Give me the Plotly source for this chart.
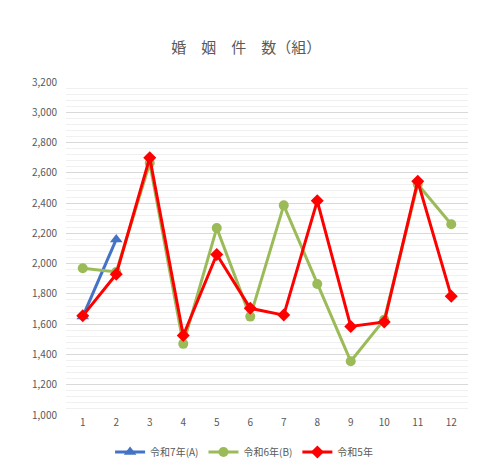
import plotly.graph_objects as go

# ---------------------------------------------------------------------------
# Data
# ---------------------------------------------------------------------------
months = [1, 2, 3, 4, 5, 6, 7, 8, 9, 10, 11, 12]

r7_name = "令和7年(A)"
r7_vals = [1650, 2160]

r6_name = "令和6年(B)"
r6_vals = [1970, 1945, 2665, 1470, 2235, 1650, 2385, 1865, 1355, 1630, 2525, 2260]

r5_name = "令和5年"
r5_vals = [1655, 1930, 2700, 1525, 2060, 1705, 1660, 2415, 1585, 1615, 2545, 1785]

y_ticks = list(range(1000, 3201, 200))

_FONT = "Noto Sans CJK JP, Noto Sans, sans-serif"
_TXT = "#595959"

fig = go.Figure()

series = [
    (r7_name, months[:len(r7_vals)], r7_vals, "#4472C4", "triangle-up", 11),
    (r6_name, months, r6_vals, "#9BBB59", "circle", 10),
    (r5_name, months, r5_vals, "#FF0000", "diamond", 10),
]
for name, xs, ys, color, symbol, msize in series:
    fig.add_trace(
        go.Scatter(
            x=xs, y=ys, name=name,
            mode="lines+markers",
            line=dict(color=color, width=3),
            marker=dict(symbol=symbol, size=msize, color=color),
        )
    )

# page body adds an 8px offset, so the figure is sized to fit inside the window
fig.update_layout(
    width=472, height=463,
    paper_bgcolor="white", plot_bgcolor="white",
    margin=dict(l=58, r=12, t=74, b=56, autoexpand=False),
    font=dict(family=_FONT, color=_TXT, size=10),
    title=dict(
        text="婚　姻　件　数（組）",
        x=0.505, xanchor="center", yref="container", y=0.914, yanchor="middle",
        font=dict(size=15, color=_TXT, family=_FONT),
    ),
    showlegend=True,
    legend=dict(
        orientation="h",
        x=0.443, xanchor="center", yref="container", y=0.041, yanchor="middle",
        font=dict(size=10, color=_TXT),
        itemwidth=30,
        traceorder="normal",
    ),
)
fig.update_xaxes(
    range=[0.5, 12.5],
    tickmode="array", tickvals=months, ticktext=[str(m) for m in months],
    showgrid=False, zeroline=False,
    showline=False,
    ticks="", tickfont=dict(size=10, color=_TXT),
    automargin=False,
)
fig.update_yaxes(
    range=[1000, 3200],
    tickmode="array", tickvals=y_ticks, ticktext=[f"{v:,}" for v in y_ticks],
    showgrid=True, gridcolor="#D9D9D9", gridwidth=1,
    minor=dict(dtick=40, showgrid=True, gridcolor="#F0F0F0", gridwidth=1),
    zeroline=False, showline=False, ticks="",
    tickfont=dict(size=10, color=_TXT),
    ticklabelstandoff=8,
    automargin=False,
)

fig.write_html("out.html")
